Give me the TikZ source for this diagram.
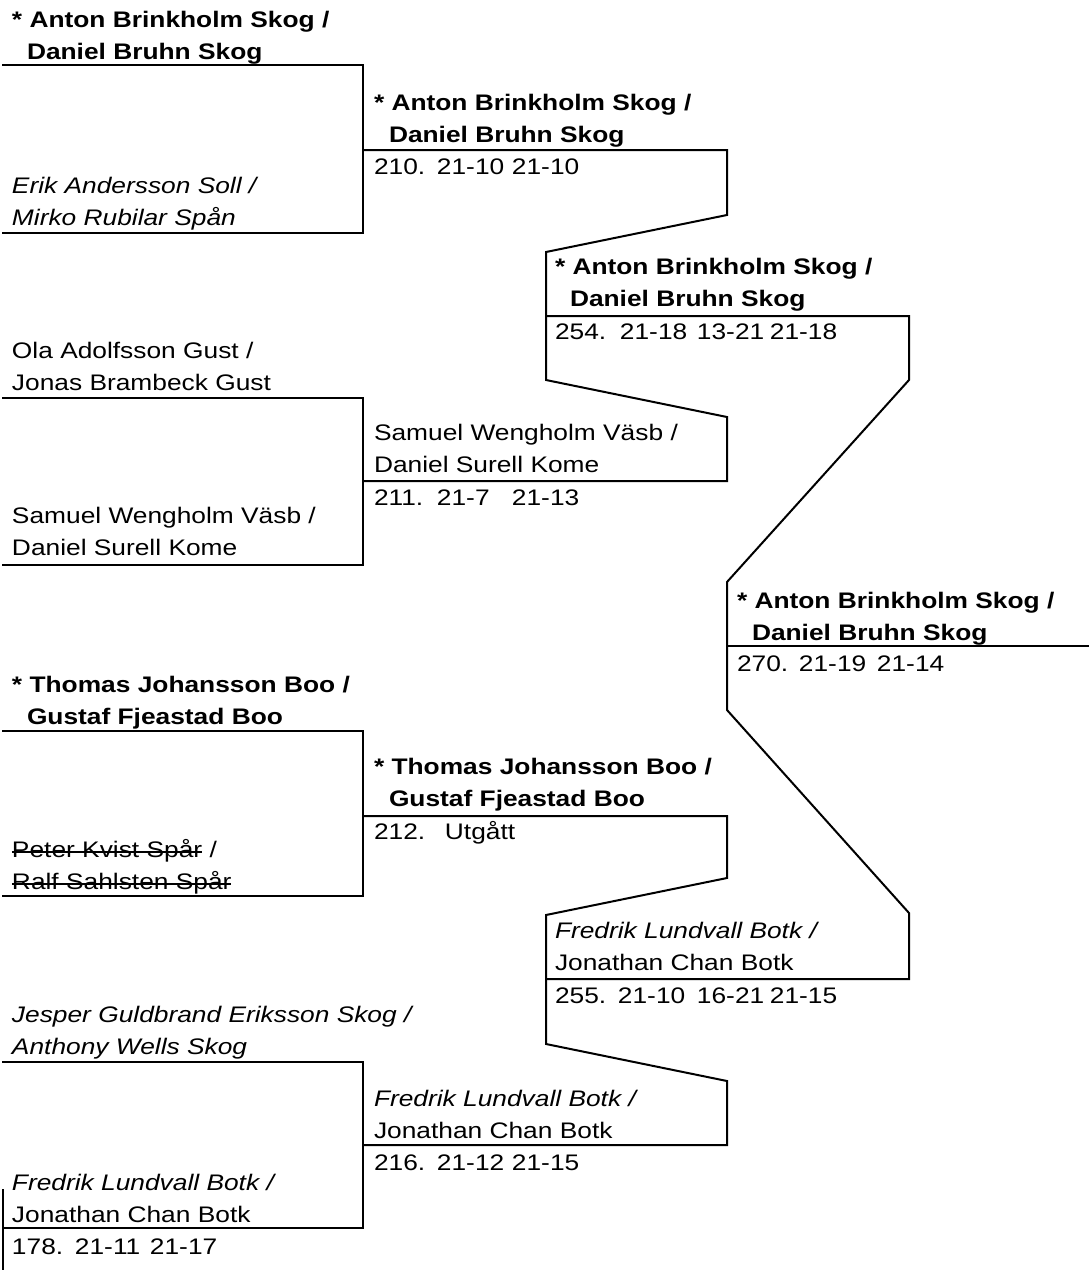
\documentclass[tikz,border=0pt]{standalone}
\usepackage{fontspec}
\setmainfont{Liberation Sans}[FakeStretch=1.17]
\newsavebox\strkbox
\newcommand\strk[1]{\sbox\strkbox{#1}\rlap{\rule[4pt]{\wd\strkbox}{1.6pt}}\usebox\strkbox}
\newcommand\two[2]{\begin{tabular}[b]{@{}l@{}}#1\\#2\end{tabular}}
\newcommand\ind{\hspace*{15pt}}
\begin{document}
\begin{tikzpicture}[x=1pt,y=-1pt,
  nm/.style={anchor=base west, inner sep=0pt, outer sep=0pt, font=\fontsize{22.5}{32}\selectfont},
  ln/.style={line width=2pt, line join=miter, draw=black}]
\useasboundingbox (0,0) rectangle (1089,1270);

% ---------- coordinates of bracket lines ----------
% round 1
\coordinate (a1) at (2,65);   \coordinate (a2) at (363,65);
\coordinate (a3) at (363,233); \coordinate (a4) at (2,233);
\coordinate (b1) at (2,398);  \coordinate (b2) at (363,398);
\coordinate (b3) at (363,565); \coordinate (b4) at (2,565);
\coordinate (c1) at (2,731);  \coordinate (c2) at (363,731);
\coordinate (c3) at (363,896); \coordinate (c4) at (2,896);
\coordinate (d1) at (2,1062); \coordinate (d2) at (363,1062);
\coordinate (d3) at (363,1228); \coordinate (d4) at (3,1228);
\coordinate (e1) at (3,1189); \coordinate (e2) at (3,1270);
% round 2 upper
\coordinate (f1) at (363,150); \coordinate (f2) at (727,150);
\coordinate (f3) at (727,215); \coordinate (f4) at (546,252);
\coordinate (f5) at (546,380); \coordinate (f6) at (727,417);
\coordinate (f7) at (727,481); \coordinate (f8) at (363,481);
% round 2 lower
\coordinate (g1) at (363,816); \coordinate (g2) at (727,816);
\coordinate (g3) at (727,878); \coordinate (g4) at (546,915);
\coordinate (g5) at (546,1044); \coordinate (g6) at (727,1081);
\coordinate (g7) at (727,1145); \coordinate (g8) at (363,1145);
% round 3
\coordinate (h1) at (546,316); \coordinate (h2) at (909,316);
\coordinate (h3) at (909,380); \coordinate (h4) at (727,582);
\coordinate (h5) at (727,710); \coordinate (h6) at (909,913);
\coordinate (h7) at (909,979); \coordinate (h8) at (546,979);
% final
\coordinate (k1) at (727,646); \coordinate (k2) at (1089,646);

\draw[ln] (a1) -- (a2) -- (a3) -- (a4);
\draw[ln] (b1) -- (b2) -- (b3) -- (b4);
\draw[ln] (c1) -- (c2) -- (c3) -- (c4);
\draw[ln] (d1) -- (d2) -- (d3) -- (d4);
\draw[ln] (e1) -- (e2);
\draw[ln] (f1) -- (f2) -- (f3) -- (f4) -- (f5) -- (f6) -- (f7) -- (f8);
\draw[ln] (g1) -- (g2) -- (g3) -- (g4) -- (g5) -- (g6) -- (g7) -- (g8);
\draw[ln] (h1) -- (h2) -- (h3) -- (h4) -- (h5) -- (h6) -- (h7) -- (h8);
\draw[ln] (k1) -- (k2);

% ---------- round 1 names ----------
\node[nm] (n1) at (12,59) {\bfseries\two{* Anton Brinkholm Skog /}{\ind Daniel Bruhn Skog}};
\node[nm] (n2) at (12,225) {\itshape\two{Erik Andersson Soll /}{Mirko Rubilar Spån}};
\node[nm] (n3) at (12,390) {\two{Ola Adolfsson Gust /}{Jonas Brambeck Gust}};
\node[nm] (n4) at (12,555) {\two{Samuel Wengholm Väsb /}{Daniel Surell Kome}};
\node[nm] (n5) at (12,724) {\bfseries\two{* Thomas Johansson Boo /}{\ind Gustaf Fjeastad Boo}};
\node[nm] (n6) at (12,889) {\two{\strk{Peter Kvist Spår} /}{\strk{Ralf Sahlsten Spår}}};
\node[nm] (n7) at (12,1054) {\itshape\two{Jesper Guldbrand Eriksson Skog /}{Anthony Wells Skog}};
\node[nm] (n8) at (12,1222) {\two{\itshape Fredrik Lundvall Botk /}{Jonathan Chan Botk}};
\node[nm] (s0) at (12,1254) {\makebox[63pt][l]{178.}\makebox[75pt][l]{21-11}21-17};

% ---------- round 2 ----------
\node[nm] (n9) at (374,142) {\bfseries\two{* Anton Brinkholm Skog /}{\ind Daniel Bruhn Skog}};
\node[nm] (s1) at (374,174) {\makebox[63pt][l]{210.}\makebox[75pt][l]{21-10}21-10};
\node[nm] (n10) at (374,472) {\two{Samuel Wengholm Väsb /}{Daniel Surell Kome}};
\node[nm] (s2) at (374,505) {\makebox[63pt][l]{211.}\makebox[75pt][l]{21-7}21-13};
\node[nm] (n11) at (374,806) {\bfseries\two{* Thomas Johansson Boo /}{\ind Gustaf Fjeastad Boo}};
\node[nm] (s3) at (374,839) {\makebox[71pt][l]{212.}Utgått};
\node[nm] (n12) at (374,1138) {\two{\itshape Fredrik Lundvall Botk /}{Jonathan Chan Botk}};
\node[nm] (s4) at (374,1170) {\makebox[63pt][l]{216.}\makebox[75pt][l]{21-12}21-15};

% ---------- round 3 ----------
\node[nm] (n13) at (555,306) {\bfseries\two{* Anton Brinkholm Skog /}{\ind Daniel Bruhn Skog}};
\node[nm] (s5) at (555,339) {\makebox[65pt][l]{254.}\makebox[77pt][l]{21-18}\makebox[73pt][l]{13-21}21-18};
\node[nm] (n14) at (555,970) {\two{\itshape Fredrik Lundvall Botk /}{Jonathan Chan Botk}};
\node[nm] (s6) at (555,1003) {\makebox[63pt][l]{255.}\makebox[79pt][l]{21-10}\makebox[73pt][l]{16-21}21-15};

% ---------- final ----------
\node[nm] (n15) at (737,640) {\bfseries\two{* Anton Brinkholm Skog /}{\ind Daniel Bruhn Skog}};
\node[nm] (s7) at (737,671) {\makebox[62pt][l]{270.}\makebox[78pt][l]{21-19}21-14};
\end{tikzpicture}
\end{document}
